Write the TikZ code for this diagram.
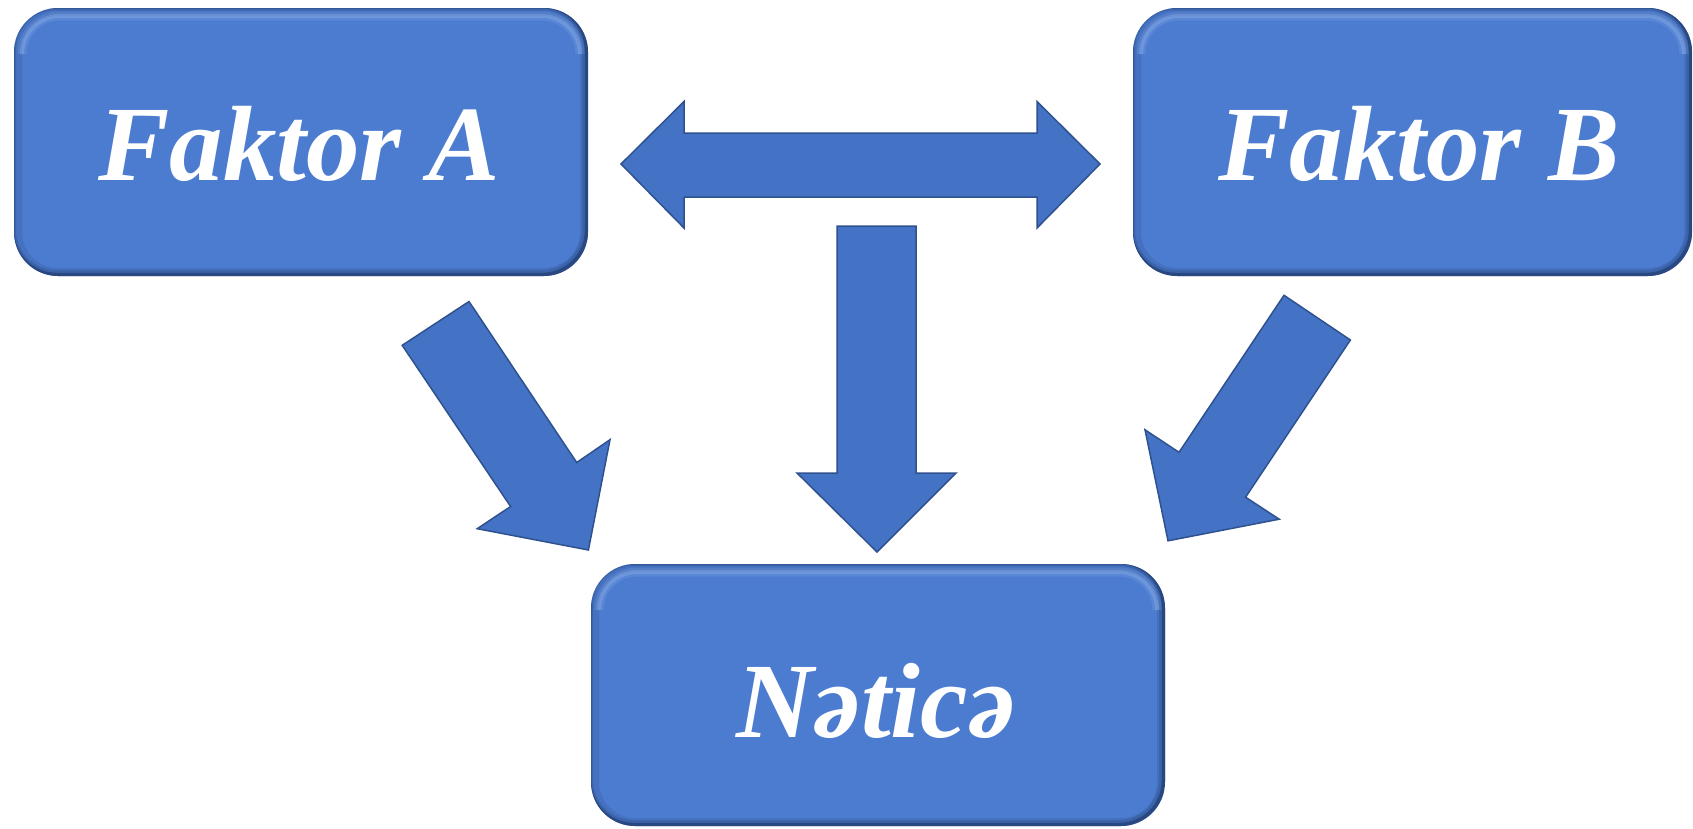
\documentclass[tikz,border=0pt]{standalone}
\usepackage{fontspec}
\setmainfont{Liberation Serif}
\usetikzlibrary{calc}
\definecolor{boxblue}{HTML}{4C7CD0}
\definecolor{boxdark}{HTML}{1B3260}
\definecolor{boxlight}{HTML}{B5D0FA}
\definecolor{arrowblue}{HTML}{4472C4}
\definecolor{arrowedge}{HTML}{2F528F}
\tikzset{
  factorbox/.style={rounded corners=44pt, fill=boxblue, inner sep=0pt,
    path picture={
      \path (path picture bounding box.south west) coordinate (ppsw)
            (path picture bounding box.north east) coordinate (ppne);
      \draw[boxdark, line width=16pt, opacity=0.14, rounded corners=44pt] (ppsw) rectangle (ppne);
      \draw[boxdark, line width=8pt, opacity=0.22, rounded corners=44pt]
        ([shift={(-2pt,2pt)}]ppsw) rectangle ([shift={(-2pt,2pt)}]ppne);
      \draw[boxdark, line width=3.5pt, opacity=0.55, rounded corners=44pt]
        ([shift={(-1.5pt,1.5pt)}]ppsw) rectangle ([shift={(-1.5pt,1.5pt)}]ppne);
      \draw[boxlight, line width=9pt, opacity=0.14, rounded corners=38pt]
        ($(ppsw|-ppne)+(8pt,-45pt)$) |- ($(ppne)+(-8pt,-8pt)$) -- ($(ppne)+(-8pt,-45pt)$);
      \draw[boxlight, line width=4pt, opacity=0.22, rounded corners=38pt]
        ($(ppsw|-ppne)+(8pt,-40pt)$) |- ($(ppne)+(-8pt,-8pt)$) -- ($(ppne)+(-8pt,-40pt)$);
    }},
  lbl/.style={text=white, inner sep=0pt, font=\fontsize{107}{107}\selectfont\bfseries\itshape},
  blockarrow/.style={fill=arrowblue, draw=arrowedge, line width=1.5pt, line join=miter},
}
\begin{document}
\begin{tikzpicture}[x=1pt,y=-1pt]
\useasboundingbox (0,0) rectangle (1693,828);
% boxes
\node[factorbox, minimum width=574pt, minimum height=268pt] (fa) at (301,142) {};
\node[factorbox, minimum width=559pt, minimum height=268pt] (fb) at (1412.5,142) {};
\node[factorbox, minimum width=574pt, minimum height=262pt] (nt) at (878,695) {};
% labels
\node[lbl, anchor=base] (ta) at (299,180) {Faktor A};
\node[lbl, anchor=base] (tb) at (1419,180) {Faktor B};
\node[lbl, anchor=base] (tn) at (876,737) {Nəticə};
% double arrow between A and B
\draw[blockarrow] (621,164) -- (684,101.5) -- (684,133) -- (1037,133) -- (1037,101.5)
  -- (1100,164) -- (1037,228) -- (1037,197) -- (684,197) -- (684,228) -- cycle;
% down arrow
\draw[blockarrow] (837,226) -- (916,226) -- (916,473) -- (956,473) -- (877,552)
  -- (797,473) -- (837,473) -- cycle;
% diagonal arrow from A
\draw[blockarrow] (469,301.5) -- (576.7,462.5) -- (610,439.7) -- (588.4,550)
  -- (477.2,528.7) -- (510.6,506.5) -- (402.2,345.3) -- cycle;
% diagonal arrow from B
\draw[blockarrow] (1284,295.3) -- (1350.4,340) -- (1245.6,497.2) -- (1279.2,519.2)
  -- (1168,540.8) -- (1145,429.8) -- (1179,452.3) -- cycle;
\end{tikzpicture}
\end{document}
